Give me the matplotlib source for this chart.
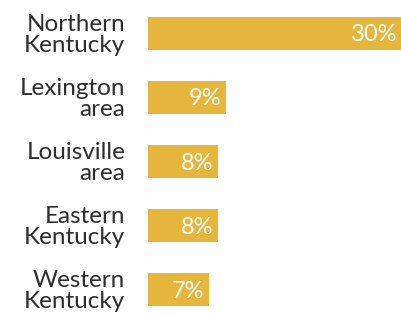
import matplotlib.pyplot as plt

regions = ["Northern\nKentucky", "Lexington\narea", "Louisville\narea", "Eastern\nKentucky", "Western\nKentucky"]
shares = [30, 9.2, 8.3, 8.3, 7.2]

bar_color = "#E5B63B"

fig = plt.figure(figsize=(4.02, 3.13), dpi=100)
ax = fig.add_axes([148 / 402, 0, 1 - 148 / 402, 1])

pos = list(range(len(regions)))
ax.barh(pos, shares, height=0.515, color=bar_color)

# white labels inside the bar end
for p, v in zip(pos, shares):
    ax.text(v - 0.55, p + 0.02, f"{round(v)}%", color="white", fontsize=17,
            ha="right", va="center", family="Lato")

# region names to the left of the axes
for p, name in zip(pos, regions):
    ax.text(-2.7, p + 0.02, name, color="#2e2e2e", fontsize=17.5, ha="right",
            va="center", linespacing=0.98, family="Lato")

ax.set_xlim(0, 30)
ax.set_ylim(4.36, -0.523)
ax.axis("off")

fig.savefig("out.png", dpi=100)
